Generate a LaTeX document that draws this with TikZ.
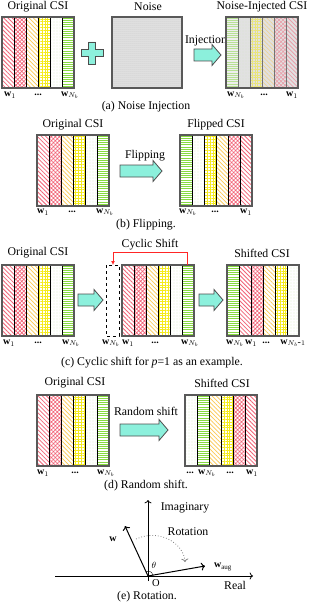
\documentclass[tikz,border=0pt]{standalone}
\usepackage{fontspec}
\setmainfont{Liberation Serif}
\usetikzlibrary{patterns,patterns.meta,arrows.meta}

\definecolor{csired}{RGB}{242,100,120}
\definecolor{csiorange}{RGB}{252,200,80}
\definecolor{csiyellow}{RGB}{245,235,30}
\definecolor{csilgreen}{RGB}{175,230,125}
\definecolor{csigreen}{RGB}{135,218,65}
\definecolor{arrowcyan}{RGB}{140,240,220}

\tikzset{
  redline/.style={pattern={Lines[angle=-45, distance=3pt, line width=0.8pt]}, pattern color=csired},
  redcheck/.style={pattern={Hatch[angle=45, distance=2.8pt, line width=0.7pt]}, pattern color=csired},
  orangeline/.style={pattern={Lines[angle=-45, distance=3pt, line width=0.7pt]}, pattern color=csiorange},
  yellowgrid/.style={pattern={Hatch[angle=0, distance=2.8pt, line width=0.5pt]}, pattern color=csiyellow},
  greendot/.style={pattern={Dots[distance=3pt, radius=0.45pt]}, pattern color=csilgreen},
  greenline/.style={fill=white, path picture={
      \foreach \k in {0,...,33}
        \draw[csigreen, line width=0.9pt]
          ([yshift=-\k*2.2pt-1pt]path picture bounding box.north west)
          -- ([yshift=-\k*2.2pt-1pt]path picture bounding box.north east);
    }},
  frame/.style={draw=black!65, line width=1.3pt},
  blockarrow/.style={draw=black!70, fill=arrowcyan, line width=0.8pt},
  wlabel/.style={font=\fontsize{10}{11}\selectfont},
}

% one CSI matrix: x, y (top), list of column styles
\newcommand{\csimatrix}[3]{
  \fill[white] (#1,#2) rectangle ++(72,71);
  \foreach \p [count=\i from 0] in {#3} {
    \fill[\p] (#1+12*\i,#2) rectangle ++(12,71);
    \draw[black, line width=0.8pt] (#1+12*\i,#2) rectangle ++(12,71);
  }
  \draw[frame] (#1,#2) rectangle ++(72,71);
}

% fat arrow: x start, x end, y centre
\newcommand{\blockarrow}[3]{
  \draw[blockarrow] (#1,#3-6) -- (#2-9,#3-6) -- (#2-9,#3-10.5) -- (#2,#3)
    -- (#2-9,#3+10.5) -- (#2-9,#3+6) -- (#1,#3+6) -- cycle;
}

\begin{document}
\begin{tikzpicture}[x=1pt, y=-1pt, font=\fontsize{11.8}{13}\selectfont]
  \useasboundingbox (0,0) rectangle (312,604);

  % (a) Noise injection
  \node (origA) at (38,7) {Original CSI};
  \csimatrix{2}{17}{redline,redcheck,orangeline,yellowgrid,greendot,greenline}
  \node[wlabel] (origA1) at (10,95) {$\textbf{w}_1$};
  \node[wlabel] (origAd) at (38,95) {\textbf{...}};
  \node[wlabel] (origAn) at (70,95) {$\textbf{w}_{N_b}$};

  % plus sign
  \draw[blockarrow] (88.5,42) -- (95.5,42) -- (95.5,49.5) -- (103,49.5) -- (103,56.5)
    -- (95.5,56.5) -- (95.5,64) -- (88.5,64) -- (88.5,56.5) -- (81,56.5) -- (81,49.5)
    -- (88.5,49.5) -- cycle;

  % noise square
  \node (noise) at (148,7) {Noise};
  \fill[gray!22] (112,17) rectangle (182,88);
  \fill[pattern={Dots[distance=2pt, radius=0.5pt]}, pattern color=gray!55] (112,17) rectangle (182,88);
  \draw[frame] (112,17) rectangle (182,88);

  \node (inject) at (206,41) {Injection};
  \blockarrow{194}{221}{55}

  % noise-injected matrix
  \node (noisyA) at (262,7) {Noise-Injected CSI};
  \fill[gray!20] (226,17) rectangle ++(72,71);
  \foreach \p [count=\i from 0] in {greenline,greendot,yellowgrid,orangeline,redcheck,redline} {
    \fill[\p, opacity=.55] (226+12*\i,17) rectangle ++(12,71);
    \fill[pattern={Dots[distance=2pt, radius=0.45pt]}, pattern color=gray!50] (226+12*\i,17) rectangle ++(12,71);
    \draw[black!55, line width=0.8pt] (226+12*\i,17) rectangle ++(12,71);
  }
  \draw[frame] (226,17) rectangle ++(72,71);
  \node[wlabel] (noisyAn) at (236,95) {$\textbf{w}_{N_b}$};
  \node[wlabel] (noisyAd) at (264,95) {\textbf{...}};
  \node[wlabel] (noisyA1) at (292,95) {$\textbf{w}_1$};

  \node (capA) at (146,107) {(a) Noise Injection};

  % (b) Flipping
  \node (origB) at (73,125) {Original CSI};
  \csimatrix{37}{135}{redline,redcheck,orangeline,yellowgrid,greendot,greenline}
  \node[wlabel] (origB1) at (43,212) {$\textbf{w}_1$};
  \node[wlabel] (origBd) at (72,212) {\textbf{...}};
  \node[wlabel] (origBn) at (105,212) {$\textbf{w}_{N_b}$};

  \node (flip) at (145,156) {Flipping};
  \blockarrow{120}{162}{171}

  \node (flipB) at (216,125) {Flipped CSI};
  \csimatrix{180}{135}{greenline,greendot,yellowgrid,orangeline,redcheck,redline}
  \node[wlabel] (flipBn) at (188,212) {$\textbf{w}_{N_b}$};
  \node[wlabel] (flipBd) at (215,212) {\textbf{...}};
  \node[wlabel] (flipB1) at (246,212) {$\textbf{w}_1$};

  \node (capB) at (146,225) {(b) Flipping.};

  % (c) Cyclic shift
  \node (origC) at (38,253) {Original CSI};
  \csimatrix{2}{265}{redline,redcheck,orangeline,yellowgrid,greendot,greenline}
  \node[wlabel] (origC1) at (9,343) {$\textbf{w}_1$};
  \node[wlabel] (origCd) at (38,343) {\textbf{...}};
  \node[wlabel] (origCn) at (71,343) {$\textbf{w}_{N_b}$};

  \blockarrow{78}{103}{300}

  \draw[dashed, line width=0.9pt] (106,265) rectangle (119,336);
  \csimatrix{122}{265}{redline,redcheck,orangeline,yellowgrid,greendot,greenline}
  \coordinate (shiftsrc) at (187,265);
  \coordinate (shiftdst) at (113,265);
  \draw[red!85, line width=0.9pt, -{Latex[length=4pt,width=4pt]}] (shiftsrc) -- ++(0,-13) -| (shiftdst);
  \node (cyclic) at (150,245) {Cyclic Shift};
  \node[wlabel] (midCn) at (111,343) {$\textbf{w}_{N_b}$};
  \node[wlabel] (midC1) at (128,343) {$\textbf{w}_1$};
  \node[wlabel] (midCd) at (155,343) {\textbf{...}};
  \node[wlabel] (midCm) at (190,343) {$\textbf{w}_{N_b}$};

  \blockarrow{199}{223}{300}

  \node (shiftC) at (262,253) {Shifted CSI};
  \csimatrix{227}{265}{greenline,redline,redcheck,orangeline,yellowgrid,greendot}
  \node[wlabel] (shiftCn) at (235,343) {$\textbf{w}_{N_b}$};
  \node[wlabel] (shiftC1) at (251,343) {$\textbf{w}_1$};
  \node[wlabel] (shiftCd) at (266,343) {\textbf{...}};
  \node[wlabel] (shiftCm) at (293,343) {$\textbf{w}_{N_b\mbox{-}1}$};

  \node (capC) at (152,363) {(c) Cyclic shift for \textit{p}=1 as an example.};

  % (d) Random shift
  \node (origD) at (75,383) {Original CSI};
  \csimatrix{37}{395}{redline,redcheck,orangeline,yellowgrid,greendot,greenline}
  \node[wlabel] (origD1) at (43,473) {$\textbf{w}_1$};
  \node[wlabel] (origDd) at (75,473) {\textbf{...}};
  \node[wlabel] (origDn) at (106,473) {$\textbf{w}_{N_b}$};

  \node (random) at (146,411) {Random shift};
  \blockarrow{120}{168}{430}

  \node (shiftD) at (222,383) {Shifted CSI};
  \csimatrix{185}{395}{greendot,greenline,orangeline,yellowgrid,redcheck,redline}
  \node[wlabel] (shiftDd) at (190,473) {\textbf{...}};
  \node[wlabel] (shiftDn) at (207,473) {$\textbf{w}_{N_b}$};
  \node[wlabel] (shiftDe) at (230,473) {\textbf{...}};
  \node[wlabel] (shiftD1) at (252,473) {$\textbf{w}_1$};

  \node (capD) at (146,486) {(d) Random shift.};

  % (e) Rotation
  \begin{scope}[shift={(148,576)}, yscale=-1]
    \coordinate (O) at (0,0);
    \coordinate (reLeft) at (-93,0);
    \coordinate (reRight) at (105,0);
    \coordinate (imLow) at (0,-5);
    \coordinate (imTop) at (0,76);
    \coordinate (wtip) at (-23,50);
    \coordinate (augtip) at (57,10);
    \draw[line width=0.8pt, ->] (reLeft) -- (reRight);
    \draw[line width=0.8pt, ->] (imLow) -- (imTop);
    \draw[line width=1pt, ->] (O) -- (wtip);
    \draw[line width=1pt, ->] (O) -- (augtip);
    \draw[gray, dotted, line width=0.8pt, ->] (-12,37) .. controls (12,48) and (36,32) .. (37,14);
    \draw[line width=0.4pt] (O) ++(12:5) arc[start angle=12, end angle=112, radius=5];
    \node[wlabel] (wlab) at (-35,37) {$\textbf{w}$};
    \node[wlabel] (auglab) at (75,9) {$\textbf{w}_{\mathrm{aug}}$};
    \node (imag) at (37,68) {Imaginary};
    \node (rot) at (40,44) {Rotation};
    \node (real) at (87,-9) {Real};
    \node[font=\fontsize{10.5}{11}\selectfont, inner sep=1pt] (olab) at (8,-7.5) {O};
    \node[font=\fontsize{9}{10}\selectfont] (theta) at (6,11) {$\theta$};
  \end{scope}

  \node[inner sep=1pt] (capE) at (147,597) {(e) Rotation.};
\end{tikzpicture}
\end{document}
